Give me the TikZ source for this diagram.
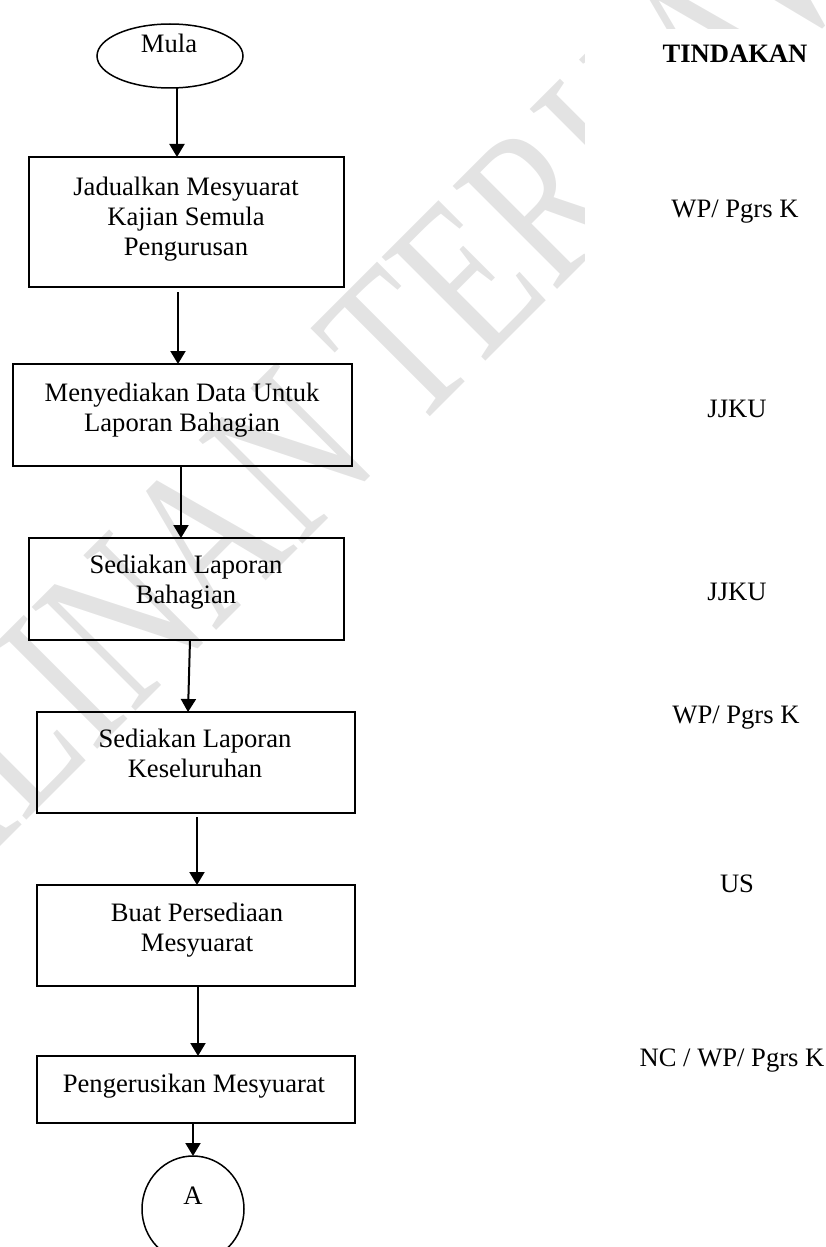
\documentclass[tikz,border=0pt]{standalone}
\usepackage{fontspec}
\setmainfont{Liberation Serif}
\newfontfamily\wmfont{Liberation Serif}
\usetikzlibrary{shapes.geometric,arrows.meta,calc}
\tikzset{
  box/.style={draw, line width=0.85pt, rectangle, inner sep=0pt, outer sep=0pt, anchor=north west},
  term/.style={draw, line width=0.75pt, ellipse, inner sep=0pt, outer sep=0pt},
  txt/.style={inner sep=0pt, anchor=base, font=\fontsize{13.3pt}{15pt}\selectfont},
  acttxt/.style={inner sep=0pt, anchor=base, font=\fontsize{13.3pt}{15pt}\selectfont},
  arr/.style={line width=1pt, -{Triangle[length=6.5pt,width=7.5pt]}},
  wm/.style={inner sep=0pt, text=black!11, font=\wmfont\fontsize{112pt}{112pt}\selectfont, rotate=45, xscale=0.73}
}
\newcommand\lines[1]{\renewcommand\arraystretch{1}\begin{tabular}[t]{@{}c@{}}#1\end{tabular}}
\begin{document}
\begin{tikzpicture}[x=0.5pt,y=-0.5pt]
\useasboundingbox (0,0) rectangle (825,1247);
\clip (0,0) rectangle (825,1247);
% watermark
\node[wm, anchor=base west] (wmb) at (412,435) {TERKAWAL};
\node[wm, anchor=base east] (wma) at (383,464) {SALINAN};
\fill[white] (585,29) rectangle (825,1247);

% shapes
\node[term, minimum width=73pt, minimum height=32pt] (mula) at (170,56) {};
\node[box, minimum width=157.5pt, minimum height=65pt] (b1) at (29,157) {};
\node[box, minimum width=169.5pt, minimum height=51pt] (b2) at (13,364) {};
\node[box, minimum width=157.5pt, minimum height=51pt] (b3) at (29,538) {};
\node[box, minimum width=159pt, minimum height=50.5pt] (b4) at (37,712) {};
\node[box, minimum width=159pt, minimum height=50.5pt] (b5) at (37,885) {};
\node[box, minimum width=159pt, minimum height=33.5pt] (b6) at (37,1056) {};
\node[term, minimum width=51pt, minimum height=53pt] (conA) at (193,1209) {};

% texts in shapes
\node[txt] (tm) at (169,53) {Mula};
\node[txt] (t1) at (186,195) {\lines{Jadualkan Mesyuarat\\Kajian Semula\\Pengurusan}};
\node[txt] (t2) at (182,401) {\lines{Menyediakan Data Untuk\\Laporan Bahagian}};
\node[txt] (t3) at (186,573) {\lines{Sediakan Laporan\\Bahagian}};
\node[txt] (t4) at (195,747) {\lines{Sediakan Laporan\\Keseluruhan}};
\node[txt] (t5) at (197,921) {\lines{Buat Persediaan\\Mesyuarat}};
\node[txt] (t6) at (194,1092) {Pengerusikan Mesyuarat};
\node[txt] (tA) at (193,1204) {A};

% action column
\node[acttxt, font=\fontsize{13.3pt}{15pt}\selectfont\bfseries] (h) at (735,63) {TINDAKAN};
\node[acttxt] (r1) at (735,217) {WP/ Pgrs K};
\node[acttxt] (r2) at (737,417) {JJKU};
\node[acttxt] (r3) at (737,600) {JJKU};
\node[acttxt] (r4) at (736,723) {WP/ Pgrs K};
\node[acttxt] (r5) at (737,892) {US};
\node[acttxt] (r6) at (732,1066) {NC / WP/ Pgrs K};

% connectors
\coordinate (s1) at ($(mula.south)+(7,0)$);
\draw[arr] (s1) -- (s1 |- b1.north);
\coordinate (s2) at ($(b1.south)+(-8.5,5)$);
\draw[arr] (s2) -- (s2 |- b2.north);
\coordinate (s3) at ($(b2.south)+(-1.5,0)$);
\draw[arr] (s3) -- (s3 |- b3.north);
\draw[arr] ($(b3.south)+(3.5,0)$) -- ($(b4.north)+(-8,0)$);
\coordinate (s5) at ($(b4.south)+(1,4)$);
\draw[arr] (s5) -- (s5 |- b5.north);
\coordinate (s6) at ($(b5.south)+(2,0)$);
\draw[arr] (s6) -- (s6 |- b6.north);
\coordinate (s7) at ($(b6.south)+(-3,0)$);
\draw[arr] (s7) -- (s7 |- conA.north);
\end{tikzpicture}
\end{document}
